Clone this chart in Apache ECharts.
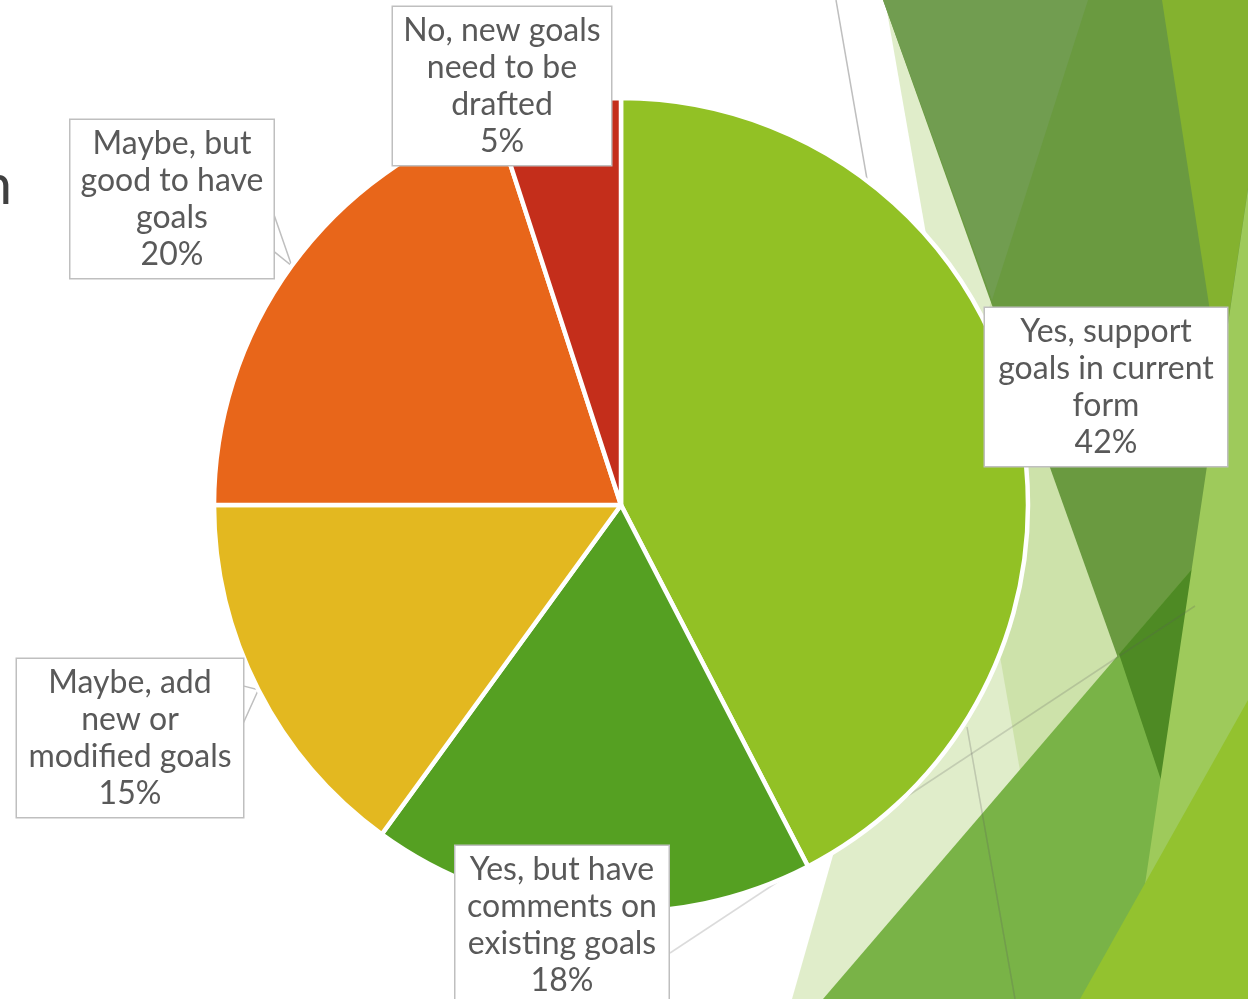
<!DOCTYPE html>
<html>
<head>
<meta charset="utf-8">
<script src="https://cdn.jsdelivr.net/npm/echarts@6/dist/echarts.min.js"></script>
<style>
html,body{margin:0;padding:0;background:#fff;}
#chart{width:1248px;height:999px;}
</style>
</head>
<body>
<div id="chart"></div>
<script>
// ---- data ----
const categories = [
  'Yes, support\ngoals in current\nform',
  'Yes, but have\ncomments on\nexisting goals',
  'Maybe, add\nnew or\nmodified goals',
  'Maybe, but\ngood to have\ngoals',
  'No, new goals\nneed to be\ndrafted'
];
const values = [42.4, 17.6, 15, 20, 5];
const sliceColors = ['#92C125', '#55A022', '#E3B820', '#E8661A', '#C42E1B'];
const showLeader = [false, false, true, true, false];

// ---- label box layout (centre x, centre y, text width, callout attach fractions) ----
const labelCx = [1106, 562, 130, 172, 502];
const labelCy = [387, 925, 738, 199, 86];
const labelW  = [224, 195, 208, 185, 200];
const attachA = [0, 0, 0.17, 0.59, 0];
const attachB = [0, 0, 0.41, 0.83, 0];
const PAD_X = 9, PAD_Y = 5, LINE_H = 37;

const FONT = 'Lato';

const chart = echarts.init(document.getElementById('chart'), null, {renderer: 'canvas'});

const seriesData = categories.map((c, i) => ({
  name: c,
  value: values[i],
  itemStyle: {color: sliceColors[i]},
  label: {width: labelW[i]},
  labelLine: {show: showLeader[i]}
}));

const bgShapes = [
  {pts: [[885,0],[1060,999],[1248,999],[1248,0]], fill: 'rgba(177,210,122,0.4)'},
  {pts: [[792,999],[1077,0],[1248,0],[1248,999]], fill: 'rgba(177,210,122,0.4)'},
  {pts: [[883,0],[1300,0],[1183,840]], fill: '#6A9A40'},
  {pts: [[883,0],[1088,0],[992,300]], fill: '#719D50'},
  {pts: [[823,999],[1248,504],[1248,999]], fill: '#79B347'},
  {pts: [[1119,654],[1248,504],[1248,840],[1181,840]], fill: '#4E8A24'},
  {pts: [[1162,0],[1276,0],[1220,376]], fill: '#84B22F'},
  {pts: [[1276,0],[1128,999],[1248,999],[1248,0]], fill: '#9ECA5B'},
  {pts: [[1080,999],[1248,700],[1248,999]], fill: '#93C22F'}
];
const bgLines = [
  {pts: [[836,0],[868,185]], stroke: '#BFBFBF'},
  {pts: [[670,953],[1195,606]], stroke: 'rgba(90,90,90,0.22)'},
  {pts: [[967,727],[1015,999]], stroke: 'rgba(90,90,90,0.25)'}
];

const graphic = [];
bgShapes.forEach(s => graphic.push({
  type: 'polygon', silent: true, z: 0,
  shape: {points: s.pts}, style: {fill: s.fill}
}));
bgLines.forEach(l => graphic.push({
  type: 'polyline', silent: true, z: 0,
  shape: {points: l.pts}, style: {stroke: l.stroke, lineWidth: 1.5, fill: null}
}));
graphic.push({
  type: 'text', silent: true, z: 0, x: 12, y: 214,
  style: {text: 'n', fill: '#404040', font: '56px ' + FONT, align: 'right', verticalAlign: 'bottom'}
});

chart.setOption({
  animation: false,
  backgroundColor: '#ffffff',
  graphic: graphic,
  series: [{
    type: 'pie',
    center: [621, 505],
    radius: 407,
    startAngle: 90,
    clockwise: true,
    avoidLabelOverlap: false,
    data: seriesData,
    itemStyle: {borderColor: '#ffffff', borderWidth: 4.5},
    label: {
      show: true,
      position: 'outside',
      formatter: p => p.name + '\n' + Math.round(p.value) + '%',
      fontFamily: FONT,
      fontSize: 32,
      lineHeight: LINE_H,
      color: '#595959',
      align: 'center',
      backgroundColor: '#ffffff',
      borderColor: '#BFBFBF',
      borderWidth: 1.5,
      padding: [PAD_Y, PAD_X, PAD_Y, PAD_X],
      overflow: 'none'
    },
    labelLine: {
      show: true,
      length: 10,
      length2: 10,
      lineStyle: {color: '#BFBFBF', width: 1.5}
    },
    labelLayout: function (params) {
      const i = params.dataIndex;
      const res = {
        x: labelCx[i],
        y: labelCy[i],
        align: 'center',
        verticalAlign: 'middle'
      };
      if (showLeader[i] && params.labelLinePoints) {
        const tip = params.labelLinePoints[0];
        const boxH = 4 * LINE_H + 2 * PAD_Y;
        const right = labelCx[i] + labelW[i] / 2 + PAD_X;
        const top = labelCy[i] - boxH / 2;
        res.labelLinePoints = [
          [right, top + boxH * attachA[i]],
          [tip[0], tip[1]],
          [right, top + boxH * attachB[i]]
        ];
      }
      return res;
    },
    emphasis: {disabled: true}
  }]
});
</script>
</body>
</html>
